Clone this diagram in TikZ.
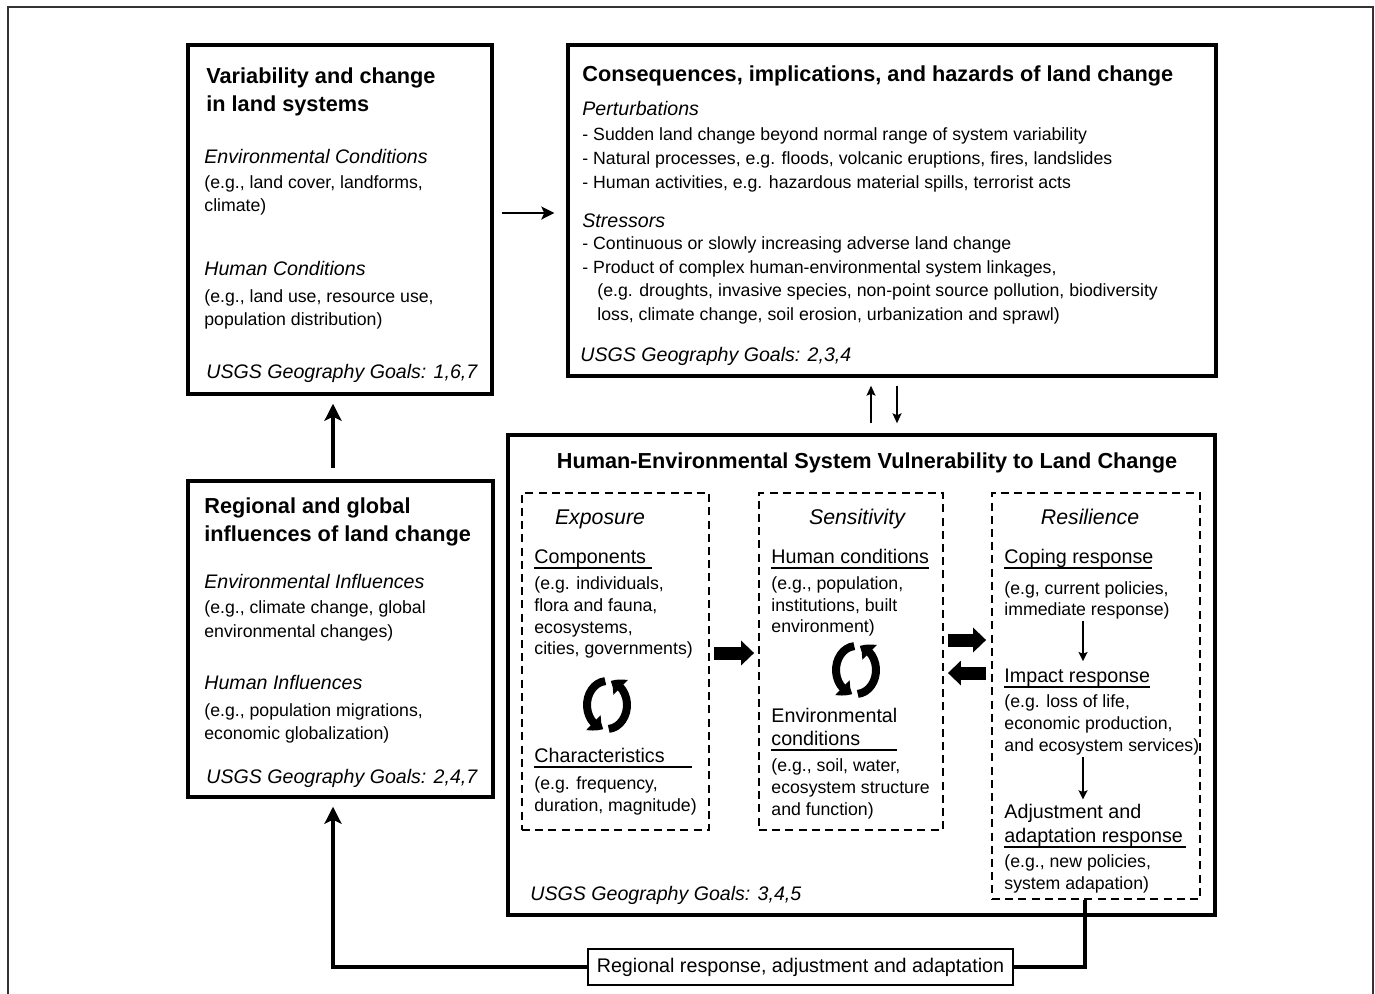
\documentclass[tikz,border=0pt]{standalone}
\usepackage{fontspec}
\setmainfont{Liberation Sans}
\usetikzlibrary{fit,calc,arrows.meta,bending}
\newcommand\myTitle{\fontsize{10.85pt}{14pt}\selectfont\bfseries}
\newcommand\mySub{\fontsize{9.8pt}{12pt}\selectfont\itshape}
\newcommand\myHead{\fontsize{9.85pt}{12pt}\selectfont}
\newcommand\myBody{\fontsize{8.85pt}{12pt}\selectfont}
\newcommand\myCol{\fontsize{10.65pt}{13pt}\selectfont\itshape}
\begin{document}
\begin{tikzpicture}[x=0.5pt,y=-0.5pt,
  box/.style={draw, line width=1.7pt, inner sep=0pt},
  dbox/.style={draw, line width=0.9pt, dash pattern=on 4pt off 2.6pt, inner sep=0pt},
  txt/.style={anchor=base west, inner sep=0pt, font=\myBody},
  ttl/.style={anchor=base west, inner sep=0pt, font=\myTitle},
  sub/.style={anchor=base west, inner sep=0pt, font=\mySub},
  hd/.style={anchor=base west, inner sep=0pt, font=\myHead},
  col/.style={anchor=base, inner sep=0pt, font=\myCol},
  uline/.style={line width=0.75pt},
  arrA/.style={line width=1.2pt, -{Stealth[length=6.5pt,width=6.5pt,inset=1.5pt]}},
  arrC/.style={line width=2pt, -{Stealth[length=8.5pt,width=8.5pt,inset=2pt]}},
  thinarr/.style={line width=0.8pt, -{Stealth[length=5pt,width=4.5pt,inset=1pt]}},
  sarr/.style={line width=0.8pt, -{Stealth[length=4.5pt,width=4.5pt,inset=0.8pt]}},
  blk/.style={line width=6.5pt, -{Triangle[length=6.5pt,width=12pt]}},
  conn/.style={line width=1.8pt},
  cycl/.style={line width=4pt, -{Triangle[length=6pt,width=10pt,bend]}},
  cyc/.pic={
    \draw[cycl] (265:20 and 24) arc[start angle=265,end angle=100,x radius=20,y radius=24];
    \draw[cycl] (85:20 and 24) arc[start angle=85,end angle=-80,x radius=20,y radius=24];
  }
]
\path[use as bounding box] (0,0) rectangle (1375,993);
\draw[line width=1pt, draw=black!80] (8,7) rectangle (1373,1010);

% helper coordinates
\coordinate (h213) at (0,213);
\coordinate (h653) at (0,653);
\coordinate (h640) at (0,640);
\coordinate (h673) at (0,673);
\coordinate (v333) at (333,0);
\coordinate (v871) at (871,0);
\coordinate (v897) at (897,0);
\coordinate (v1083) at (1083,0);
\coordinate (v1085) at (1085,0);

% boxes
\coordinate (A1) at (188,45);  \coordinate (A2) at (492,394);
\coordinate (B1) at (568,45);  \coordinate (B2) at (1216,376);
\coordinate (C1) at (188,481); \coordinate (C2) at (493,797);
\coordinate (D1) at (508,435); \coordinate (D2) at (1215,915);
\coordinate (E1) at (522,493); \coordinate (E2) at (709,830);
\coordinate (S1) at (759,493); \coordinate (S2) at (943,830);
\coordinate (R1) at (992,493); \coordinate (R2) at (1200,899);
\node[box, fit=(A1)(A2)] (A) {};
\node[box, fit=(B1)(B2)] (B) {};
\node[box, fit=(C1)(C2)] (C) {};
\node[box, fit=(D1)(D2)] (D) {};
\node[dbox, fit=(E1)(E2)] (E) {};
\node[dbox, fit=(S1)(S2)] (S) {};
\node[dbox, fit=(R1)(R2)] (R) {};

% Box A
\node[ttl] (a1) at (206,83) {Variability and change};
\node[ttl] (a2) at (206,111) {in land systems};
\node[sub] (a3) at (204,163) {Environmental Conditions};
\node[txt] (a4) at (204,188) {(e.g., land cover, landforms,};
\node[txt] (a5) at (204,211) {climate)};
\node[sub] (a6) at (204,275) {Human Conditions};
\node[txt] (a7) at (204,302) {(e.g., land use, resource use,};
\node[txt] (a8) at (204,325) {population distribution)};
\node[sub] (a9) at (206,378) {USGS Geography Goals: 1,6,7};

% Box B
\node[ttl] (b1) at (582,81) {Consequences, implications, and hazards of land change};
\node[sub] (b2) at (582,115) {Perturbations};
\node[txt] (b3) at (582,140) {- Sudden land change beyond normal range of system variability};
\node[txt] (b4) at (582,164) {- Natural processes, e.g. floods, volcanic eruptions, fires, landslides};
\node[txt] (b5) at (582,188) {- Human activities, e.g. hazardous material spills, terrorist acts};
\node[sub] (b6) at (582,227) {Stressors};
\node[txt] (b7) at (582,249) {- Continuous or slowly increasing adverse land change};
\node[txt] (b8) at (582,273) {- Product of complex human-environmental system linkages,};
\node[txt] (b9) at (597,296) {(e.g. droughts, invasive species, non-point source pollution, biodiversity};
\node[txt] (b10) at (597,320) {loss, climate change, soil erosion, urbanization and sprawl)};
\node[sub] (b11) at (580,361) {USGS Geography Goals: 2,3,4};

% Box C
\node[ttl] (c1) at (204,513) {Regional and global};
\node[ttl] (c2) at (204,541) {influences of land change};
\node[sub] (c3) at (204,588) {Environmental Influences};
\node[txt] (c4) at (204,613) {(e.g., climate change, global};
\node[txt] (c5) at (204,637) {environmental changes)};
\node[sub] (c6) at (204,689) {Human Influences};
\node[txt] (c7) at (204,716) {(e.g., population migrations,};
\node[txt] (c8) at (204,739) {economic globalization)};
\node[sub] (c9) at (206,783) {USGS Geography Goals: 2,4,7};

% Box D
\node[anchor=base, inner sep=0pt, font=\myTitle] (d1) at (867,468) {Human-Environmental System Vulnerability to Land Change};
\node[sub] (d2) at (530,900) {USGS Geography Goals: 3,4,5};

% Exposure
\node[col] (e0) at (600,524) {Exposure};
\node[hd] (e1) at (534,563) {Components};
\draw[uline] (534,568) -- (652,568);
\node[txt] (e2) at (534,589) {(e.g. individuals,};
\node[txt] (e3) at (534,611) {flora and fauna,};
\node[txt] (e4) at (534,633) {ecosystems,};
\node[txt] (e5) at (534,654) {cities, governments)};
\pic at (607,705) {cyc};
\node[hd] (e6) at (534,762) {Characteristics};
\draw[uline] (534,767) -- (692,767);
\node[txt] (e7) at (534,789) {(e.g. frequency,};
\node[txt] (e8) at (534,811) {duration, magnitude)};

% Sensitivity
\node[col] (s0) at (857,524) {Sensitivity};
\node[hd] (s1) at (771,563) {Human conditions};
\draw[uline] (771,568) -- (929,568);
\node[txt] (s2) at (771,589) {(e.g., population,};
\node[txt] (s3) at (771,611) {institutions, built};
\node[txt] (s4) at (771,632) {environment)};
\pic at (856,670) {cyc};
\node[hd] (s5) at (771,722) {Environmental};
\node[hd] (s6) at (771,745) {conditions};
\draw[uline] (771,750) -- (897,750);
\node[txt] (s7) at (771,771) {(e.g., soil, water,};
\node[txt] (s8) at (771,793) {ecosystem structure};
\node[txt] (s9) at (771,815) {and function)};

% Resilience
\node[col] (r0) at (1090,524) {Resilience};
\node[hd] (r1) at (1004,563) {Coping response};
\draw[uline] (1004,568) -- (1152,568);
\node[txt] (r2) at (1004,594) {(e.g, current policies,};
\node[txt] (r3) at (1004,615) {immediate response)};
\node[hd] (r4) at (1004,682) {Impact response};
\draw[uline] (1004,687) -- (1150,687);
\node[txt] (r5) at (1004,707) {(e.g. loss of life,};
\node[txt] (r6) at (1004,729) {economic production,};
\node[txt] (r7) at (1004,751) {and ecosystem services)};
\node[hd] (r8) at (1004,818) {Adjustment and};
\node[hd] (r9) at (1004,842) {adaptation response};
\draw[uline] (1004,847) -- (1186,847);
\node[txt] (r10) at (1004,867) {(e.g., new policies,};
\node[txt] (r11) at (1004,889) {system adapation)};

\draw[sarr] ($(r3.south -| v1083)+(0,2)$) -- ($(r4.north -| v1083)+(0,-7)$);
\draw[sarr] ($(r7.south -| v1083)+(0,2)$) -- ($(r8.north -| v1083)+(0,-4)$);

% connectors
\draw[arrA] ($(A.east |- h213)+(8,0)$) -- ($(B.west |- h213)+(-12,0)$);
\draw[arrC] ($(C.north -| v333)+(0,-11)$) -- ($(A.south -| v333)+(0,8)$);
\draw[thinarr] ($(D.north -| v871)+(0,-10)$) -- ($(B.south -| v871)+(0,8)$);
\draw[thinarr] ($(B.south -| v897)+(0,8)$) -- ($(D.north -| v897)+(0,-10)$);
\draw[blk] ($(E.east |- h653)+(4,0)$) -- ($(S.west |- h653)+(-4,0)$);
\draw[blk] ($(S.east |- h640)+(4,0)$) -- ($(R.west |- h640)+(-5,0)$);
\draw[blk] ($(R.west |- h673)+(-5,0)$) -- ($(S.east |- h673)+(4,0)$);

\node[draw, line width=0.8pt, minimum width=212.5pt, minimum height=18pt, inner sep=0pt, font=\myHead] (L) at (800.5,967) {Regional response, adjustment and adaptation};
\draw[conn] (R.south -| v1085) |- (L.east);
\draw[conn, -{Stealth[length=8.5pt,width=8.5pt,inset=2pt]}] (L.west) -| ($(C.south -| v333)+(0,8)$);
\end{tikzpicture}
\end{document}
